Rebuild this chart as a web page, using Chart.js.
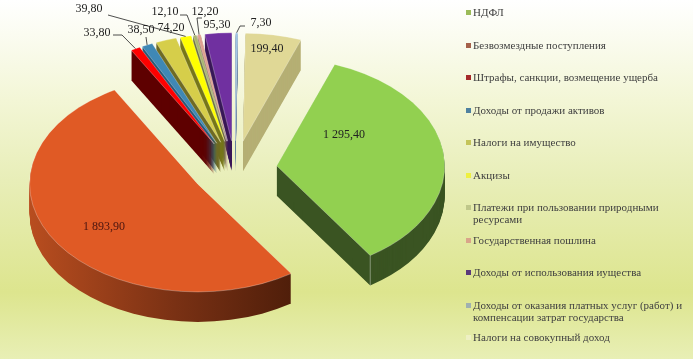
<!DOCTYPE html>
<html>
<head>
<meta charset="utf-8">
<script src="https://cdn.jsdelivr.net/npm/chart.js@4"></script>
<style>
  html, body { margin: 0; padding: 0; }
  body {
    width: 693px; height: 359px; position: relative; overflow: hidden;
    background: linear-gradient(#ffffff 0, #f3f6d6 100px, #e8eeb8 180px, #dde58e 292px, #e8efb5 359px);
  }
  canvas { position: absolute; left: 0; top: 0; }
  #legend { position: absolute; left: 466px; top: 6px; width: 222px; margin: 0; padding: 0; list-style: none;
    font: 11px/12.3px "Liberation Serif", serif; color: #404040; }
  #legend li { height: 32.5px; position: relative; padding-left: 7px; }
  #legend i { position: absolute; left: 0; top: 4px; width: 5px; height: 5px; }
</style>
</head>
<body>
<canvas id="chart" width="693" height="359"></canvas>
<ul id="legend"></ul>
<script>
const categories = [
  "НДФЛ",
  "Безвозмездные поступления",
  "Штрафы, санкции, возмещение ущерба",
  "Доходы от продажи  активов",
  "Налоги на имущество",
  "Акцизы",
  "Платежи при пользовании природными ресурсами",
  "Государственная пошлина",
  "Доходы от использования иущества",
  "Доходы от оказания платных услуг (работ) и компенсации затрат государства",
  "Налоги на совокупный доход",
];
const revenue = [1295.4, 1893.9, 33.8, 38.5, 74.2, 39.8, 12.1, 12.2, 95.3, 7.3, 199.4];

const faceColors = ["#92d050", "#e05a25", "#ff0000", "#3f88b5", "#d6ce4a", "#ffff00", "#a9b56e", "#dda090", "#7030a0", "#9dc3e6", "#e0d896"];
const wallColors = ["#3a5422", "#6b2a10", "#5e0000", "#2a5a78", "#6f6b24", "#77771a", "#6a7040", "#8a6050", "#3a1858", "#6a86a0", "#b5af74"];
const legendColors = ["#9bbb59", "#a5614a", "#a52a2a", "#4f81a0", "#c4c45a", "#eef040", "#bfc78a", "#d9a58a", "#5a3a7a", "#9fb0b0", "#eef0c4"];
const sliceOffsets = [42, 44, 44, 44, 44, 44, 44, 44, 44, 44, 44];

// label centres, and the elbow of the leader line where there is one
const labelSpots = [[344, 135], [104, 227], [97, 33], [141, 30], [171, 28], [89, 9], [165, 12], [205, 12], [217, 25], [261, 23], [267, 49]];
const leaderStarts = [null, null, [113, 35], [146, 37], null, [108, 15], [180, 15], [202, 18], null, [245, 26], null];
const leaderElbows = [null, null, [122, 35], [146, 37], null, null, [187, 15], [197, 18], null, [240, 26], null];

const tilt = 0.643;
const depth = 30;

function formatValue(v) {
  const [whole, frac] = v.toFixed(2).split(".");
  return whole.replace(/\B(?=(\d{3})+$)/g, " ") + "," + frac;
}

function sliceCentre(arc, offset) {
  const mid = (arc.startAngle + arc.endAngle) / 2;
  return { x: arc.x + Math.cos(mid) * offset, y: arc.y + Math.sin(mid) * offset * tilt };
}

function tracePath(ctx, arc, offset, drop) {
  const c = sliceCentre(arc, offset);
  ctx.save();
  ctx.translate(c.x, c.y + drop);
  ctx.scale(1, tilt);
  ctx.beginPath();
  ctx.moveTo(0, 0);
  ctx.arc(0, 0, arc.outerRadius, arc.startAngle, arc.endAngle);
  ctx.closePath();
  ctx.restore();
}

const pie3d = {
  id: "pie3d",
  beforeDatasetDraw(chart) {
    const ctx = chart.ctx;
    const arcs = chart.getDatasetMeta(0).data;

    // walls first, right to left, then every top face over them
    for (let i = arcs.length - 1; i >= 0; i--) {
      const off = arcs[i].options.offset;
      if (i === 1) {
        const g = ctx.createLinearGradient(30, 0, 293, 0);
        g.addColorStop(0, "#b84d1f");
        g.addColorStop(0.55, "#7a3114");
        g.addColorStop(1, "#4f1e0a");
        ctx.fillStyle = g;
      } else {
        ctx.fillStyle = wallColors[i];
      }
      for (let d = depth; d > 0; d--) {
        tracePath(ctx, arcs[i], off, d);
        ctx.fill();
      }
    }
    arcs.forEach((arc, i) => {
      tracePath(ctx, arc, arc.options.offset, 0);
      ctx.fillStyle = faceColors[i];
      ctx.fill();
      // thin highlight round the face
      ctx.strokeStyle = "rgba(255,255,255,0.4)";
      ctx.lineWidth = 0.7;
      ctx.stroke();
    });

    // light seam on the corner of the green wall
    const green = arcs[0];
    const gc = sliceCentre(green, green.options.offset);
    const cornerX = gc.x + Math.cos(green.endAngle) * green.outerRadius;
    const cornerY = gc.y + Math.sin(green.endAngle) * green.outerRadius * tilt;
    ctx.beginPath();
    ctx.moveTo(cornerX, cornerY);
    ctx.lineTo(cornerX, cornerY + depth);
    ctx.strokeStyle = "rgba(255,255,255,0.5)";
    ctx.lineWidth = 0.8;
    ctx.stroke();

    // leader lines and value labels
    ctx.font = '12px "Liberation Serif"';
    ctx.textAlign = "center";
    ctx.textBaseline = "middle";
    arcs.forEach((arc, i) => {
      if (leaderStarts[i]) {
        const c = sliceCentre(arc, arc.options.offset);
        const mid = (arc.startAngle + arc.endAngle) / 2;
        ctx.beginPath();
        ctx.moveTo(leaderStarts[i][0], leaderStarts[i][1]);
        if (leaderElbows[i]) ctx.lineTo(leaderElbows[i][0], leaderElbows[i][1]);
        ctx.lineTo(c.x + Math.cos(mid) * arc.outerRadius, c.y + Math.sin(mid) * arc.outerRadius * tilt);
        ctx.strokeStyle = "#222";
        ctx.lineWidth = 0.8;
        ctx.stroke();
      }
      ctx.fillStyle = i === 1 ? "#4a1510" : "#222";
      ctx.fillText(formatValue(revenue[i]), labelSpots[i][0], labelSpots[i][1]);
    });
    return false;
  },
};

new Chart(document.getElementById("chart"), {
  type: "pie",
  data: {
    labels: categories,
    datasets: [{ data: revenue, backgroundColor: faceColors, offset: sliceOffsets, borderWidth: 0 }],
  },
  options: {
    responsive: false,
    animation: false,
    rotation: 20.2,
    radius: 168,
    layout: { padding: { right: 223, bottom: 21 } },
    plugins: { legend: { display: false }, tooltip: { enabled: false } },
  },
  plugins: [pie3d],
});

const legendEl = document.getElementById("legend");
categories.forEach((name, i) => {
  const li = document.createElement("li");
  const box = document.createElement("i");
  box.style.background = legendColors[i];
  li.appendChild(box);
  li.appendChild(document.createTextNode(name));
  legendEl.appendChild(li);
});
</script>
</body>
</html>
